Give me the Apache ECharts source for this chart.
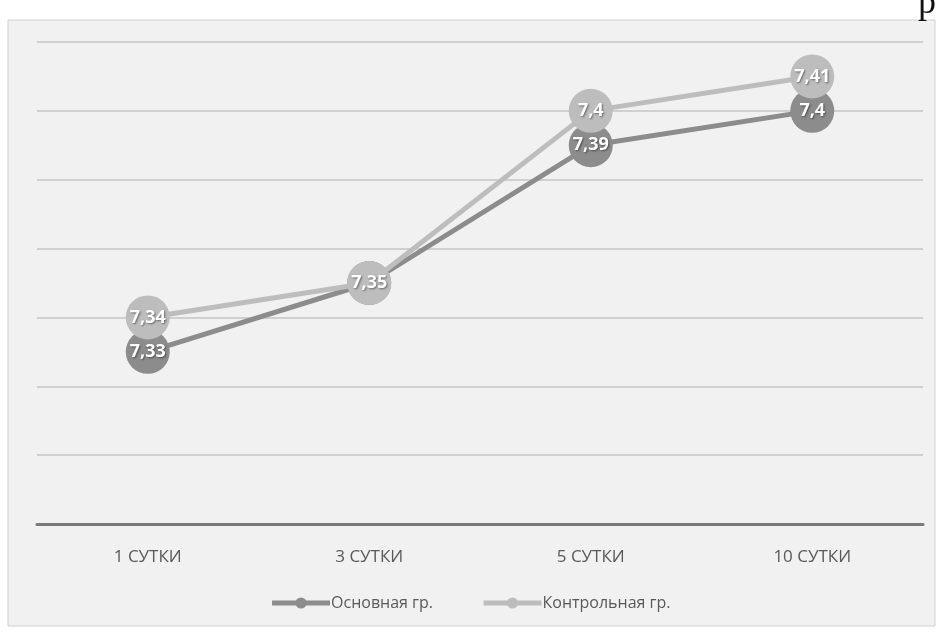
<!DOCTYPE html>
<html><head><meta charset="utf-8">
<script src="https://cdn.jsdelivr.net/npm/echarts@6/dist/echarts.min.js"></script>
<style>html,body{margin:0;padding:0;background:#fff}#c{width:940px;height:642px}</style>
</head><body><div id="c"></div>
<script>
const categories = ['1 СУТКИ', '3 СУТКИ', '5 СУТКИ', '10 СУТКИ'];
const mainGroup = [7.33, 7.35, 7.39, 7.40];
const controlGroup = [7.34, 7.35, 7.40, 7.41];
const seriesNames = ['Основная гр.', 'Контрольная гр.'];

const chart = echarts.init(document.getElementById('c'));
const fmt = p => String(+p.value.toFixed(2)).replace('.', ',');
const labelStyle = {
  show: true, position: 'inside', formatter: fmt,
  color: '#ffffff', fontSize: 18, fontWeight: 'bold', fontFamily: 'Open Sans',
  textShadowColor: 'rgba(0,0,0,0.45)', textShadowBlur: 2, textShadowOffsetX: 1, textShadowOffsetY: 1
};
chart.setOption({
  backgroundColor: '#ffffff',
  graphic: [
    { type: 'rect', z: -10, shape: { x: 8, y: 20, width: 927, height: 606 },
      style: { fill: '#f1f1f1', stroke: '#d0d0d0', lineWidth: 1 } },
    { type: 'text', left: 918, top: -14, style: { text: 'р', font: '36px "Liberation Serif"', fill: '#111' } }
  ],
  grid: { left: 37, right: 17, top: 42, bottom: 118 },
  legend: {
    bottom: 26, left: 'center', itemGap: 48, itemWidth: 58, itemHeight: 14,
    lineStyle: { width: 5 },
    textStyle: { color: '#595959', fontSize: 16, fontFamily: 'Open Sans', padding: [0, 0, 0, -4] },
    data: seriesNames
  },
  xAxis: {
    type: 'category', data: categories, boundaryGap: true,
    axisLine: { lineStyle: { color: '#7a7a7a', width: 3 } },
    axisTick: { show: false },
    axisLabel: { color: '#595959', fontSize: 17, fontFamily: 'Open Sans', margin: 25 }
  },
  yAxis: {
    type: 'value', min: 7.28, max: 7.42, interval: 0.02,
    axisLabel: { show: false }, axisLine: { show: false }, axisTick: { show: false },
    splitLine: { lineStyle: { color: '#c4c4c4', width: 1.5 } }
  },
  series: [
    { name: seriesNames[0], type: 'line', data: mainGroup, symbol: 'circle', symbolSize: 44,
      lineStyle: { color: '#8c8c8c', width: 5 }, itemStyle: { color: '#8c8c8c' },
      label: labelStyle, z: 2 },
    { name: seriesNames[1], type: 'line', data: controlGroup, symbol: 'circle', symbolSize: 44,
      lineStyle: { color: '#bdbdbd', width: 5 }, itemStyle: { color: '#bdbdbd' },
      label: labelStyle, z: 3 }
  ],
  animation: false
});
</script></body></html>
